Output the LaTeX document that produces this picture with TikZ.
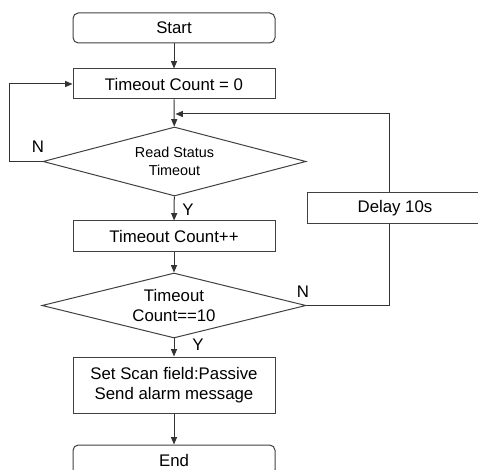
\documentclass[tikz,border=0pt]{standalone}
\usepackage{fontspec}
\setmainfont{Liberation Sans}
\usetikzlibrary{shapes.geometric,arrows.meta}
\def\boxw{151.5pt}
\def\boxh{22.5pt}
\def\big{\fontsize{12.6}{15}\selectfont}
\def\small{\fontsize{10.8}{13.5}\selectfont}

\begin{document}
\begin{tikzpicture}[x=0.75pt,y=-0.75pt,
  box/.style={draw=black!75,line width=0.75pt,minimum width=\boxw,minimum height=\boxh,inner sep=0pt,font=\big,align=center},
  term/.style={box,rounded corners=4pt},
  test/.style={diamond,draw=black!75,line width=0.75pt,inner sep=0pt,align=center,aspect=3.9},
  flow/.style={draw=black!80,line width=0.75pt,-{Triangle[length=5.5pt,width=4.5pt]}},
  line/.style={draw=black!80,line width=0.75pt},
  tag/.style={font=\big,inner sep=0pt}]

\useasboundingbox (0,0) rectangle (478,470);

%the main column is at x=174, pixels of a 478x470 picture
\node[term] (start) at (174,28) {Start};
\node[box] (zero) at (174,84) {Timeout Count = 0};
\node[test,minimum width=197.25pt,minimum height=51.75pt,font=\small] (read) at (174.5,161.5) {Read Status\\Timeout};
\node[box,minimum height=23.25pt] (inc) at (174,236.5) {Timeout Count++};
\node[test,minimum width=198pt,minimum height=48.75pt,font=\big] (check) at (174,305.5) {Timeout\\Count==10};
\node[box,minimum height=42pt] (alarm) at (174,385) {Set Scan field:Passive\\Send alarm message};
\node[term] (end) at (174,460) {End};

%the delay box runs past the right edge
\node[box,minimum width=132pt,minimum height=23.25pt] (delay) at (395,208.5) {Delay 10s};

\coordinate (back) at (389,114);

\node[tag] (n1) at (38,147) {N};
\node[tag] (y1) at (188,210) {Y};
\node[tag] (n2) at (303,292) {N};
\node[tag] (y2) at (198,345) {Y};

\draw[flow] (start) -- (zero);
\draw[flow] (zero) -- (read);
\draw[flow] (read) -- (inc);
\draw[flow] (inc) -- (check);
\draw[flow] (check) -- (alarm);
\draw[flow] (alarm) -- (end);

\draw[flow] (read.west) -- ++(-33,0) |- (zero.west);
\draw[line] (check.east) -- (check.east -| back) -- (back |- delay.south);
\draw[flow] (back |- delay.north) -- (back) -- (175.5,114);

\end{tikzpicture}
\end{document}
